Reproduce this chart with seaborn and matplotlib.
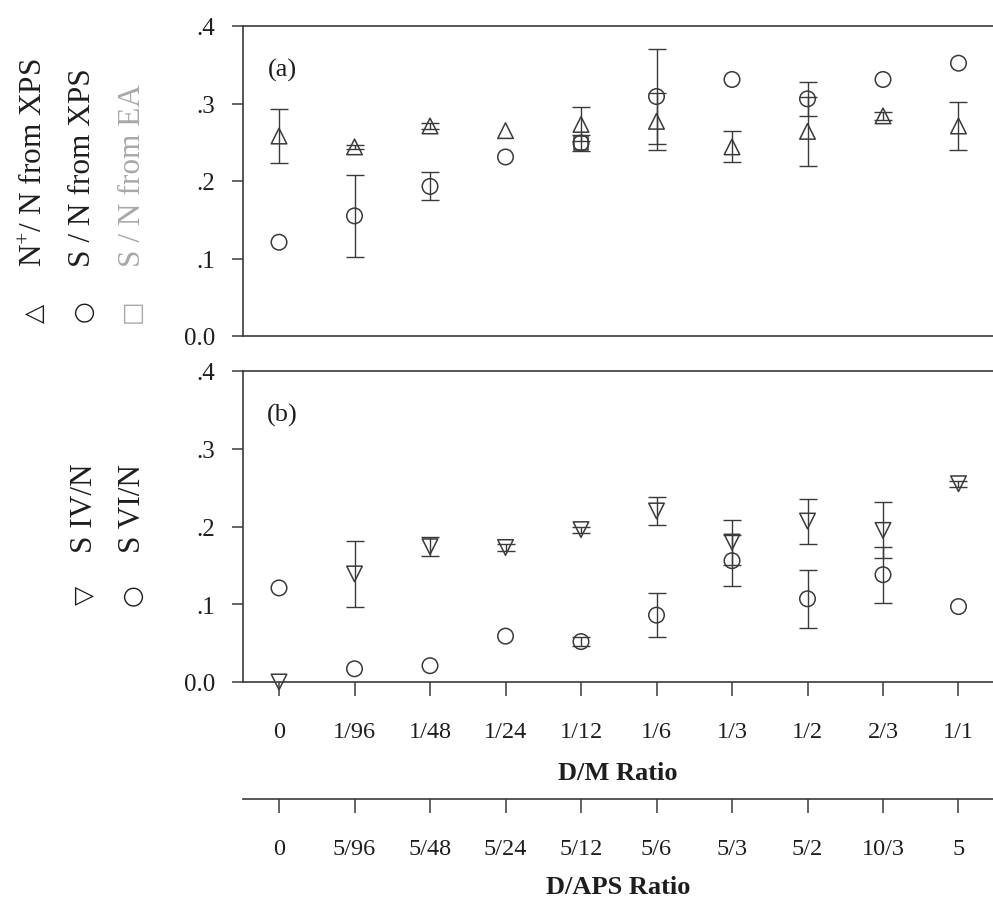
import numpy as np
import pandas as pd
import matplotlib
matplotlib.use("Agg")
import matplotlib.pyplot as plt
import seaborn as sns

# ---- data -------------------------------------------------------------
dm_ratio = ["0", "1/96", "1/48", "1/24", "1/12", "1/6", "1/3", "1/2", "2/3", "1/1"]
daps_ratio = ["0", "5/96", "5/48", "5/24", "5/12", "5/6", "5/3", "5/2", "10/3", "5"]

# (a) surface ratios
n_plus_xps = [0.258, 0.244, 0.271, 0.265, 0.273, 0.277, 0.244, 0.264, 0.284, 0.271]
n_plus_xps_err = [0.035, 0.003, 0.004, 0.0, 0.022, 0.037, 0.020, 0.045, 0.005, 0.031]
s_n_xps = [0.121, 0.155, 0.193, 0.231, 0.249, 0.309, 0.331, 0.306, 0.331, 0.352]
s_n_xps_err = [0.0, 0.053, 0.018, 0.0, 0.0, 0.061, 0.0, 0.022, 0.0, 0.0]
s_n_ea = [np.nan, np.nan, np.nan, np.nan, 0.249, np.nan, np.nan, np.nan, np.nan, np.nan]
s_n_ea_err = [0.0, 0.0, 0.0, 0.0, 0.010, 0.0, 0.0, 0.0, 0.0, 0.0]

# (b) sulfur oxidation states
s4_n = [0.0, 0.139, 0.174, 0.173, 0.196, 0.220, 0.180, 0.207, 0.195, 0.255]
s4_n_err = [0.0, 0.042, 0.012, 0.004, 0.004, 0.018, 0.029, 0.029, 0.036, 0.004]
s6_n = [0.121, 0.017, 0.021, 0.059, 0.052, 0.086, 0.156, 0.107, 0.138, 0.097]
s6_n_err = [0.0, 0.0, 0.0, 0.0, 0.006, 0.028, 0.033, 0.037, 0.036, 0.0]

yticks = [0.0, 0.1, 0.2, 0.3, 0.4]
ytick_labels = ["0.0", ".1", ".2", ".3", ".4"]

# ---- style ------------------------------------------------------------
sns.set_theme(style="white")
plt.rcParams["font.family"] = ["Liberation Serif", "DejaVu Serif", "DejaVu Sans"]
plt.rcParams["mathtext.fontset"] = "custom"
plt.rcParams["mathtext.rm"] = "Liberation Serif"
plt.rcParams["mathtext.it"] = "Liberation Serif:italic"
plt.rcParams["mathtext.bf"] = "Liberation Serif:bold"

INK = "#3a3a3a"
TXT = "#1e1e1e"
FAINT = "#a8a8a8"
W, H = 993, 903

fig = plt.figure(figsize=(W / 100, H / 100), dpi=100)
fig.patch.set_facecolor("white")


def fx(px):
    return px / W


def fy(py):
    return 1 - py / H


ax_a = fig.add_axes([fx(243), fy(337), 1 - fx(243), (337 - 27) / H])
ax_b = fig.add_axes([fx(243), fy(683), 1 - fx(243), (683 - 372) / H])

xpos = np.arange(len(dm_ratio))


def draw_series(ax, vals, errs, marker, color=INK, size=125):
    df = pd.DataFrame({"x": xpos, "y": vals, "err": errs}).dropna()
    sns.scatterplot(data=df, x="x", y="y", marker=marker, s=size,
                    facecolor="none", edgecolor=color, linewidth=1.1,
                    ax=ax, clip_on=False, zorder=3, legend=False)
    e = df[df["err"] > 0]
    if len(e):
        ax.errorbar(e["x"], e["y"], yerr=e["err"], fmt="none", ecolor=color,
                    elinewidth=1.0, capsize=6.5, capthick=1.0, zorder=2)


draw_series(ax_a, n_plus_xps, n_plus_xps_err, "^")
draw_series(ax_a, s_n_xps, s_n_xps_err, "o")
draw_series(ax_a, s_n_ea, s_n_ea_err, "s", size=90)

draw_series(ax_b, s4_n, s4_n_err, "v")
draw_series(ax_b, s6_n, s6_n_err, "o")

for ax in (ax_a, ax_b):
    ax.set_xlim(-0.477, 9.457)
    ax.set_ylim(0, 0.4)
    ax.set_yticks(yticks)
    ax.set_yticklabels(ytick_labels)
    ax.set_xlabel("")
    ax.set_ylabel("")
    ax.spines["right"].set_visible(False)
    for s in ("left", "top", "bottom"):
        ax.spines[s].set_color(INK)
        ax.spines[s].set_linewidth(1.2)
    ax.tick_params(axis="y", left=True, direction="out", length=8, width=1.1,
                   color=INK, pad=12, labelsize=18, labelcolor=TXT)
    ax.set_facecolor("none")

ax_a.set_xticks([])
ax_a.tick_params(axis="x", bottom=False)

ax_b.set_xticks(xpos)
ax_b.set_xticklabels(dm_ratio)
ax_b.tick_params(axis="x", bottom=True, direction="out", length=10, width=1.1,
                 color=INK, pad=18, labelsize=17.5, labelcolor=TXT)
ax_b.set_xlabel("D/M Ratio", fontsize=19, fontweight="bold", color=TXT, labelpad=14)

# second scale: D/APS ratio under the D/M scale
sec = ax_b.secondary_xaxis(-0.376)
sec.set_xticks(xpos)
sec.set_xticklabels(daps_ratio)
sec.tick_params(axis="x", direction="out", length=10, width=1.1, color=INK,
                pad=18, labelsize=17.5, labelcolor=TXT)
sec.spines["bottom"].set_color(INK)
sec.spines["bottom"].set_linewidth(1.2)
sec.set_xlabel("D/APS Ratio", fontsize=19, fontweight="bold", color=TXT, labelpad=12)

ax_a.text(0.052, 0.86, "(a)", transform=ax_a.transAxes, fontsize=19,
          color=TXT, ha="center", va="center")
ax_b.text(0.052, 0.86, "(b)", transform=ax_b.transAxes, fontsize=19,
          color=TXT, ha="center", va="center")

# rotated series keys on the left
keys = [
    (35, 313, 267, "\u25B3", r"N$^{+}$/ N from XPS", TXT),
    (83, 311, 267, "\u25CB", "S / N from XPS", TXT),
    (132, 311, 267, "\u25A1", "S / N from EA", FAINT),
    (85, 595, 553, "\u25BD", "S IV/N", TXT),
    (132, 595, 553, "\u25CB", "S VI/N", TXT),
]
for x, ym, yt, glyph, label, col in keys:
    fig.text(fx(x), fy(ym), glyph, rotation=90, ha="center", va="center",
             fontsize=18, color=col, family=["DejaVu Sans"])
    fig.text(fx(x), fy(yt), label, rotation=90, ha="center", va="bottom",
             fontsize=22.5, color=col)

fig.savefig("out.png", dpi=100, facecolor="white")
